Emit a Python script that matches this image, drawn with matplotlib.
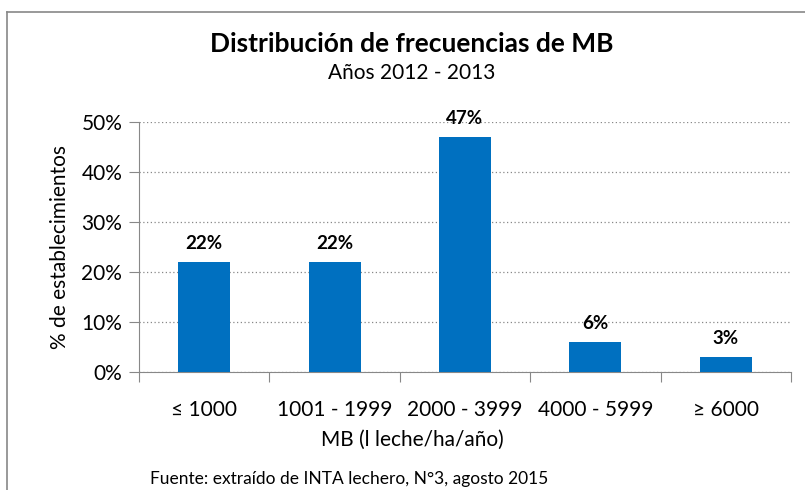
import numpy as np
import matplotlib.pyplot as plt
from matplotlib.lines import Line2D
from matplotlib.ticker import FuncFormatter, FixedLocator

plt.rcParams['font.family'] = ['Lato', 'DejaVu Sans']

# ---- Data ----
categorias = ["\u2264 1000", "1001 - 1999", "2000 - 3999", "4000 - 5999", "\u2265 6000"]
porcentajes = [0.22, 0.22, 0.47, 0.06, 0.03]
etiquetas = ["22%", "22%", "47%", "6%", "3%"]

W, H = 805, 490
fig = plt.figure(figsize=(W / 100, H / 100), dpi=100)
ax = fig.add_axes([139 / W, 118 / H, 652 / W, 250 / H])

x = np.arange(len(categorias))
ax.bar(x, porcentajes, width=0.4, color="#0070C0", zorder=3)

for xi, v, lab in zip(x, porcentajes, etiquetas):
    ax.annotate(lab, (xi, v), xytext=(0, 7), textcoords="offset points",
                ha="center", va="bottom", fontsize=13.5, fontweight="bold")

ax.set_xlim(-0.5, len(categorias) - 0.5)
ax.set_ylim(0, 0.5)
ax.set_yticks(np.arange(0, 0.51, 0.1))
ax.yaxis.set_major_formatter(FuncFormatter(lambda v, p: f"{v*100:.0f}%"))
ax.grid(axis="y", color="#888888", linestyle=(0, (1, 2)), linewidth=0.9, zorder=0)

# x ticks at category boundaries, labels at centres
ax.xaxis.set_major_locator(FixedLocator(np.arange(-0.5, len(categorias), 1.0)))
ax.xaxis.set_major_formatter(FuncFormatter(lambda v, p: ""))
ax.xaxis.set_minor_locator(FixedLocator(x))
ax.set_xticklabels(categorias, minor=True)
ax.tick_params(axis="x", which="minor", length=0, pad=20, labelsize=15)
ax.tick_params(axis="x", which="major", length=7, color="#888888", direction="out")
ax.tick_params(axis="y", length=7, color="#888888", labelsize=15, pad=5)

for s in ["top", "right"]:
    ax.spines[s].set_visible(False)
for s in ["left", "bottom"]:
    ax.spines[s].set_color("#888888")

ax.set_ylabel("% de establecimientos", fontsize=15, labelpad=8)
fig.text(412 / W, 1 - 440 / H, "MB (l leche/ha/año)", ha="center", va="center", fontsize=15)

fig.text(412 / W, 1 - 44 / H, "Distribución de frecuencias de MB", ha="center", va="center",
         fontsize=19, fontweight="bold")
fig.text(412 / W, 1 - 73 / H, "Años 2012 - 2013", ha="center", va="center", fontsize=15)
fig.text(150 / W, 1 - 479 / H, "Fuente: extraído de INTA lechero, N°3, agosto 2015",
         ha="left", va="center", fontsize=12.5)

# chart area border
fig.add_artist(Line2D([7 / W, 7 / W], [0, 1 - 12 / H], color="#888888", linewidth=1.2))
fig.add_artist(Line2D([7 / W, 1], [1 - 12 / H, 1 - 12 / H], color="#888888", linewidth=1.2))

fig.savefig("out.png", dpi=100)
